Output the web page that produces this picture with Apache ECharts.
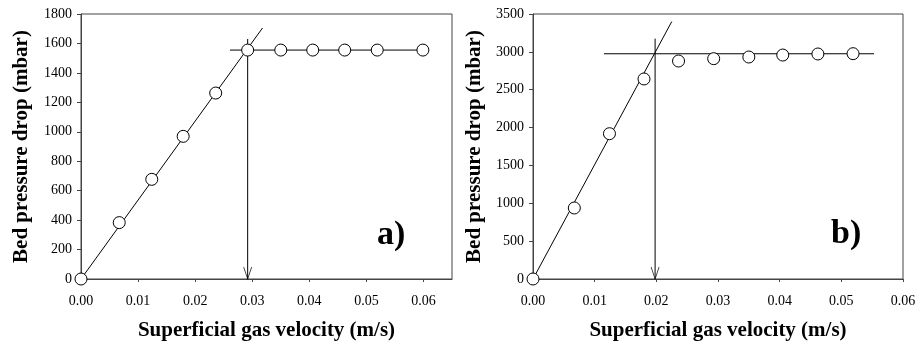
<!DOCTYPE html>
<html>
<head>
<meta charset="utf-8">
<script src="https://cdn.jsdelivr.net/npm/echarts@6/dist/echarts.min.js"></script>
<style>html,body{margin:0;padding:0;background:#fff}#c{width:921px;height:343px}</style>
</head>
<body>
<div id="c"></div>
<script>
// ---- Panel a) data ----
const aX = [0, 0.0067, 0.0124, 0.0179, 0.0236, 0.0292, 0.0350, 0.0406, 0.0462, 0.0519, 0.0599];
const aY = [0, 383, 677, 969, 1263, 1555, 1555, 1555, 1555, 1555, 1555];
const aFitX = [0, 0.0318];
const aFitY = [0, 1705];
const aPlateauX = [0.0261, 0.0608];
const aPlateauY = [1555, 1555];
const aArrowX = [0.0292, 0.0292];
const aArrowY = [1630, 0];
const aXTicks = [0, 0.01, 0.02, 0.03, 0.04, 0.05, 0.06];

// ---- Panel b) data ----
const bX = [0, 0.0067, 0.0124, 0.0180, 0.0236, 0.0293, 0.0350, 0.0405, 0.0462, 0.0519];
const bY = [0, 938, 1919, 2642, 2879, 2910, 2932, 2958, 2972, 2976];
const bFitX = [0, 0.0225];
const bFitY = [0, 3400];
const bPlateauX = [0.0115, 0.0553];
const bPlateauY = [2975, 2975];
const bArrowX = [0.0198, 0.0198];
const bArrowY = [3175, 0];

const zip = (xs, ys) => xs.map((x, i) => [x, ys[i]]);
const FONT = 'Liberation Serif';
const AXC = '#444';
const arrowPath = 'path://M0,0 L5,12 L10,0';

function xAxis(idx, max, ticks) {
  const ax = {
    gridIndex: idx, type: 'value', min: 0, max: max, interval: 0.01,
    name: 'Superficial gas velocity (m/s)', nameLocation: 'middle', nameGap: 41,
    nameTextStyle: {fontFamily: FONT, fontWeight: 'bold', fontSize: 21, color: '#000'},
    axisLine: {show: true, lineStyle: {color: AXC, width: 1}},
    axisTick: {show: true, length: 3, lineStyle: {color: AXC}},
    axisLabel: {fontFamily: FONT, fontSize: 14, color: '#000', margin: 15,
      formatter: v => v.toFixed(2)},
    splitLine: {show: false}
  };
  if (ticks) {
    ax.axisTick.customValues = ticks;
    ax.axisLabel.customValues = ticks;
  }
  return ax;
}
function yAxis(idx, max, interval, gap) {
  return {
    gridIndex: idx, type: 'value', min: 0, max: max, interval: interval,
    name: 'Bed pressure drop (mbar)', nameLocation: 'middle', nameGap: gap,
    nameTextStyle: {fontFamily: FONT, fontWeight: 'bold', fontSize: 21, color: '#000'},
    axisLine: {show: true, lineStyle: {color: AXC, width: 1}},
    axisTick: {show: true, length: 4, lineStyle: {color: AXC}},
    axisLabel: {fontFamily: FONT, fontSize: 14, color: '#000', margin: 9,
      formatter: v => String(v)},
    splitLine: {show: false}
  };
}
function lineSeries(idx, data) {
  return {type: 'line', xAxisIndex: idx, yAxisIndex: idx, data: data, symbol: 'none',
    lineStyle: {color: '#000', width: 1}, silent: true, z: 3, clip: false};
}
function pointsSeries(idx, data) {
  return {type: 'scatter', xAxisIndex: idx, yAxisIndex: idx, data: data, symbol: 'circle',
    symbolSize: 12, itemStyle: {color: '#fff', borderColor: '#000', borderWidth: 1, opacity: 1},
    clip: false, z: 5};
}
function arrowHead(idx, xs, ys) {
  return {type: 'scatter', xAxisIndex: idx, yAxisIndex: idx, data: [[xs[1], ys[1]]],
    symbol: arrowPath, symbolSize: [8, 12], symbolOffset: [0, -6], symbolKeepAspect: false,
    itemStyle: {color: 'none', borderColor: '#000', borderWidth: 1}, clip: false, z: 4, silent: true};
}

const chart = echarts.init(document.getElementById('c'), null, {renderer: 'canvas'});
chart.setOption({
  animation: false,
  backgroundColor: '#fff',
  grid: [
    {left: 81, top: 14, width: 371, height: 265, show: true, borderColor: AXC, borderWidth: 1,
      backgroundColor: 'transparent', outerBoundsMode: 'none', containLabel: false},
    {left: 533, top: 14, width: 370, height: 265, show: true, borderColor: AXC, borderWidth: 1,
      backgroundColor: 'transparent', outerBoundsMode: 'none', containLabel: false}
  ],
  xAxis: [xAxis(0, 0.065, aXTicks), xAxis(1, 0.06)],
  yAxis: [yAxis(0, 1800, 200, 49), yAxis(1, 3500, 500, 48)],
  series: [
    lineSeries(0, zip(aFitX, aFitY)),
    lineSeries(0, zip(aPlateauX, aPlateauY)),
    lineSeries(0, zip(aArrowX, aArrowY)),
    arrowHead(0, aArrowX, aArrowY),
    pointsSeries(0, zip(aX, aY)),
    lineSeries(1, zip(bFitX, bFitY)),
    lineSeries(1, zip(bPlateauX, bPlateauY)),
    lineSeries(1, zip(bArrowX, bArrowY)),
    arrowHead(1, bArrowX, bArrowY),
    pointsSeries(1, zip(bX, bY))
  ],
  graphic: [
    {type: 'text', left: 377, top: 218, style: {text: 'a)', fontFamily: FONT, fontWeight: 'bold', fontSize: 34, fill: '#000'}},
    {type: 'text', left: 831, top: 217, style: {text: 'b)', fontFamily: FONT, fontWeight: 'bold', fontSize: 34, fill: '#000'}}
  ]
});
</script>
</body>
</html>
